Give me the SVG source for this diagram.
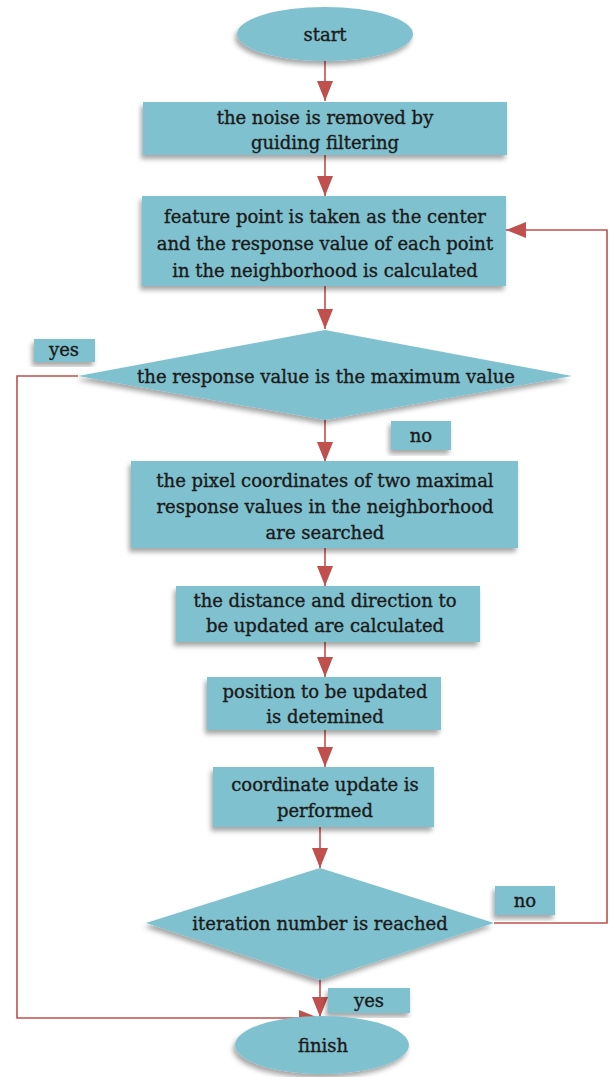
<svg xmlns="http://www.w3.org/2000/svg" width="610" height="1077" viewBox="0 0 610 1077">
<defs>
<filter id="sh" x="-10%" y="-10%" width="120%" height="130%">
<feDropShadow dx="-2" dy="4" stdDeviation="2.5" flood-color="#000" flood-opacity="0.35"/>
</filter>
<marker id="ahb" viewBox="0 0 20 16" refX="20" refY="8" markerWidth="20" markerHeight="16" markerUnits="userSpaceOnUse" orient="auto">
<path d="M0,0 L20,8 L0,16 z" fill="#c0504d"/>
</marker>
</defs>
<style>
.n{fill:#7fc1cf;filter:url(#sh)}
.t{font-family:"DejaVu Serif","Liberation Serif",serif;font-size:18px;fill:#1a1a1a;stroke:#1a1a1a;stroke-width:0.35;text-anchor:middle}
.c{fill:none;stroke:#c0504d;stroke-width:1.6}
.a{marker-end:url(#ahb)}
</style>
<g id="connectors">
<path class="c a" d="M325,61 V101"/>
<path class="c a" d="M325,155 V196"/>
<path class="c a" d="M325,286 V329"/>
<path class="c a" d="M325,420 V462"/>
<path class="c a" d="M325,548 V586"/>
<path class="c a" d="M325,642 V677"/>
<path class="c a" d="M325,730 V767"/>
<path class="c a" d="M320,827 V868"/>
<path class="c a" d="M320,980 V1017"/>
<path class="c a" d="M78,376 H17 V1018 H319"/>
<path class="c a" d="M494,923 H607 V230 H506"/>
</g>
<g id="start"><ellipse class="n" cx="325" cy="34" rx="88" ry="27"/><text class="t" x="325" y="41">start</text></g>
<g id="n1"><rect class="n" x="143" y="102" width="364" height="53"/><text class="t" x="325" y="124">the noise is removed by</text><text class="t" x="325" y="149">guiding filtering</text></g>
<g id="n2"><rect class="n" x="142" y="196" width="364" height="90"/><text class="t" x="325" y="223">feature point is taken as the center</text><text class="t" x="325" y="250">and the response value of each point</text><text class="t" x="325" y="277">in the neighborhood is calculated</text></g>
<g id="d1"><polygon class="n" points="325,330 572,376 325,420 78,376"/><text class="t" x="326" y="383">the response value is the maximum value</text></g>
<g id="yes1"><rect class="n" x="34" y="339" width="61" height="23"/><text class="t" x="64" y="356">yes</text></g>
<g id="no1"><rect class="n" x="391" y="421" width="60" height="29"/><text class="t" x="421" y="442">no</text></g>
<g id="n3"><rect class="n" x="131" y="461" width="387" height="87"/><text class="t" x="325" y="487">the pixel coordinates of two maximal</text><text class="t" x="325" y="513">response values in the neighborhood</text><text class="t" x="325" y="539">are searched</text></g>
<g id="n4"><rect class="n" x="176" y="586" width="304" height="56"/><text class="t" x="325" y="607">the distance and direction to</text><text class="t" x="325" y="632">be updated are calculated</text></g>
<g id="n5"><rect class="n" x="207" y="677" width="234" height="53"/><text class="t" x="325" y="698">position to be updated</text><text class="t" x="325" y="723">is detemined</text></g>
<g id="n6"><rect class="n" x="213" y="767" width="221" height="60"/><text class="t" x="325" y="791">coordinate update is</text><text class="t" x="325" y="817">performed</text></g>
<g id="d2"><polygon class="n" points="320,868 494,923 320,980 146,923"/><text class="t" x="320" y="930">iteration number is reached</text></g>
<g id="no2"><rect class="n" x="495" y="886" width="60" height="29"/><text class="t" x="525" y="907">no</text></g>
<g id="yes2"><rect class="n" x="328" y="988" width="82" height="25"/><text class="t" x="369" y="1007">yes</text></g>
<g id="finish"><ellipse class="n" cx="322" cy="1045" rx="87" ry="29"/><text class="t" x="323" y="1052">finish</text></g>
</svg>
